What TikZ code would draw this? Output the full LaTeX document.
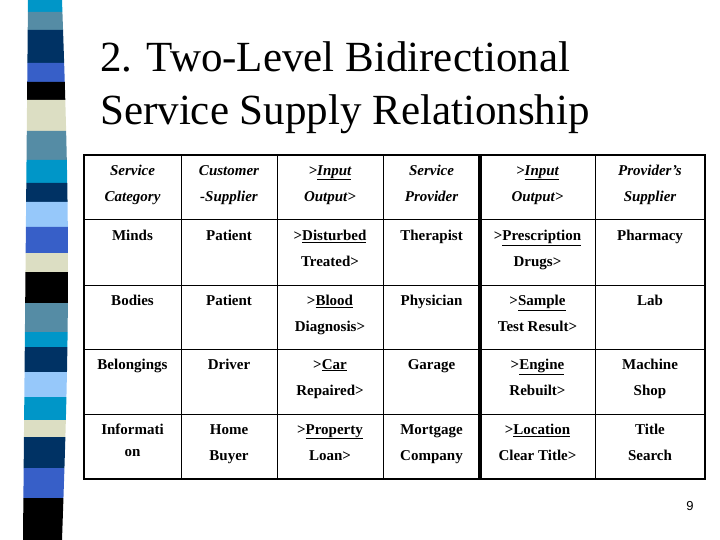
\documentclass[tikz,border=0pt]{standalone}
\usepackage{fontspec}
\setmainfont{Liberation Serif}
\setsansfont{Liberation Sans}
\begin{document}
\begin{tikzpicture}[x=1pt,y=-1pt,
  cell/.style={anchor=north,align=center,inner sep=0pt,font=\fontsize{15}{26}\selectfont\bfseries},
  hcell/.style={cell,font=\fontsize{15}{26}\selectfont\bfseries\itshape}]
\useasboundingbox (0,0) rectangle (720,540);
\definecolor{cA}{RGB}{0,150,200}\definecolor{cB}{RGB}{85,140,165}
\definecolor{cC}{RGB}{0,50,100}\definecolor{cD}{RGB}{55,95,200}
\definecolor{cE}{RGB}{0,0,0}\definecolor{cF}{RGB}{220,222,195}
\definecolor{cG}{RGB}{150,200,250}
\foreach \ya/\yb/\c in {0/12/cA,12/30/cB,30/63/cC,63/82/cD,82/100/cE,100/131/cF,131/160/cB,160/183/cA,183/202/cC,202/227/cG,227/253/cD,253/272/cF,272/303/cE,303/332/cB,332/347/cA,347/372/cC,372/397/cG,397/420/cA,420/437/cF,437/468/cC,468/498/cD,498/540/cE}{
  \pgfmathsetmacro\la{28-5*\ya/540}\pgfmathsetmacro\lb{28-5*\yb/540}
  \pgfmathsetmacro\ra{62+6*sin(\ya/540*180)}\pgfmathsetmacro\rb{62+6*sin(\yb/540*180)}
  \fill[\c] (\la,\ya) -- (\ra,\ya) -- (\rb,\yb) -- (\lb,\yb) -- cycle;}
\node[anchor=base west,inner sep=0pt,font=\fontsize{43}{43}\selectfont] (t1) at (100,72) {2. Two-Level Bidirectional};
\node[anchor=base west,inner sep=0pt,font=\fontsize{43}{43}\selectfont] (t2) at (100,125) {Service Supply Relationship};
% grid
\foreach \y in {220,285,349,414} \draw[line width=1pt] (84,\y) -- (705,\y);
\foreach \x in {181,277,383,595} \draw[line width=1pt] (\x,155) -- (\x,479);
\draw[line width=4pt] (480,155) -- (480,479);
\draw[line width=2pt] (84,155) rectangle (705,479);
% header
\node[hcell] (h1) at (132.5,165) {Service\\Category};
\node[hcell] (h2) at (229,165) {Customer\\-Supplier};
\node[hcell] (h3) at (330,165) {>\underline{Input}\\Output>};
\node[hcell] (h4) at (431.5,165) {Service\\Provider};
\node[hcell] (h5) at (537.5,165) {>\underline{Input}\\Output>};
\node[hcell] (h6) at (650,165) {Provider's\\Supplier};
% rows
\node[cell] (a1) at (132.5,230) {Minds};
\node[cell] (a2) at (229,230) {Patient};
\node[cell] (a3) at (330,230) {>\underline{Disturbed}\\Treated>};
\node[cell] (a4) at (431.5,230) {Therapist};
\node[cell] (a5) at (537.5,230) {>\underline{Prescription}\\Drugs>};
\node[cell] (a6) at (650,230) {Pharmacy};
\node[cell] (b1) at (132.5,295) {Bodies};
\node[cell] (b2) at (229,295) {Patient};
\node[cell] (b3) at (330,295) {>\underline{Blood}\\Diagnosis>};
\node[cell] (b4) at (431.5,295) {Physician};
\node[cell] (b5) at (537.5,295) {>\underline{Sample}\\Test Result>};
\node[cell] (b6) at (650,295) {Lab};
\node[cell] (c1) at (132.5,359) {Belongings};
\node[cell] (c2) at (229,359) {Driver};
\node[cell] (c3) at (330,359) {>\underline{Car}\\Repaired>};
\node[cell] (c4) at (431.5,359) {Garage};
\node[cell] (c5) at (537.5,359) {>\underline{Engine}\\Rebuilt>};
\node[cell] (c6) at (650,359) {Machine\\Shop};
\node[cell,font=\fontsize{15}{22}\selectfont\bfseries] (d1) at (132.5,424) {Informati\\on};
\node[cell] (d2) at (229,424) {Home\\Buyer};
\node[cell] (d3) at (330,424) {>\underline{Property}\\Loan>};
\node[cell] (d4) at (431.5,424) {Mortgage\\Company};
\node[cell] (d5) at (537.5,424) {>\underline{Location}\\Clear Title>};
\node[cell] (d6) at (650,424) {Title\\Search};
\node[anchor=base,inner sep=0pt,font=\sffamily\fontsize{13}{13}\selectfont] (pg) at (690,510) {9};
\end{tikzpicture}
\end{document}
